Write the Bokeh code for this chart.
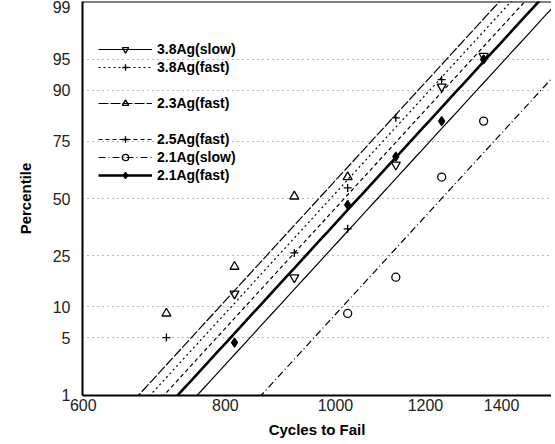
from statistics import NormalDist
import numpy as np
from bokeh.plotting import figure
from bokeh.models import Range1d, FixedTicker, Legend, LegendItem, Span, NumeralTickFormatter
from bokeh.embed import file_html
from bokeh.resources import INLINE

# ---- data ----
pct_ticks = [1, 5, 10, 25, 50, 75, 90, 95, 99]
x_ticks = [600, 800, 1000, 1200, 1400]

names = ["3.8Ag(slow)", "3.8Ag(fast)", "2.3Ag(fast)", "2.5Ag(fast)", "2.1Ag(slow)", "2.1Ag(fast)"]

ag38_slow_cycles = [815, 920, 1130, 1240, 1350]
ag38_slow_pct = [13, 17.5, 65.5, 90.7, 95.4]

ag38_fast_cycles = [920, 1025, 1240]
ag38_fast_pct = [26, 55, 92]

ag23_fast_cycles = [710, 815, 920, 1025]
ag23_fast_pct = [8.7, 21, 51, 60]

ag25_fast_cycles = [710, 1025, 1130]
ag25_fast_pct = [5, 36, 83]

ag21_slow_cycles = [1025, 1130, 1240, 1350]
ag21_slow_pct = [8.7, 17.6, 60, 82]

ag21_fast_cycles = [815, 1025, 1130, 1240, 1350]
ag21_fast_pct = [4.4, 47, 69, 82, 95]

# fitted lognormal lines: median cycles and common shape
fit_median = [1089, 990, 967, 1018, 1240, 1047]
fit_sigma = [0.157, 0.157, 0.157, 0.157, 0.157, 0.157]

# ---- styles ----
markers = ["inverted_triangle", "cross", "triangle", "cross", "circle", "diamond"]
fills = [None, None, None, None, None, "black"]
msizes = [9, 8, 9, 8, 8, 9]
dashes = ["solid", "2 3", "10 2", "4 3", "7 3 1 3", "solid"]
lwidths = [1.2, 1.2, 1.2, 1.2, 1.2, 2.6]

nd = NormalDist()
def z(p):
    return nd.inv_cdf(p / 100.0)

zt = [z(pc) for pc in pct_ticks]
zlo, zhi = zt[0] - 0.004, zt[-1] + 0.004

p = figure(width=551, height=442, x_axis_type="log",
           x_range=Range1d(599, 1549), y_range=Range1d(zlo, zhi),
           output_backend="svg", toolbar_location=None,
           min_border_left=82, min_border_right=0, min_border_top=1, min_border_bottom=47)
p.outline_line_color = None
p.background_fill_color = "white"

FONT = "Liberation Sans"
for ax in (p.xaxis[0], p.yaxis[0]):
    ax.axis_line_width = 2
    ax.axis_line_color = "black"
    ax.major_tick_line_color = None
    ax.minor_tick_line_color = None
    ax.major_tick_out = 0
    ax.major_tick_in = 0
    ax.minor_tick_out = 0
    ax.minor_tick_in = 0
    ax.major_label_text_font = FONT
    ax.major_label_text_font_size = "16px"
    ax.major_label_text_color = "#222222"
    ax.axis_label_text_font = FONT
    ax.axis_label_text_font_size = "15px"
    ax.axis_label_text_font_style = "bold"
    ax.axis_label_text_color = "black"

p.yaxis.ticker = FixedTicker(ticks=zt)
p.yaxis.major_label_overrides = {t: str(pc) for t, pc in zip(zt, pct_ticks)}
p.yaxis.major_label_standoff = 12
p.yaxis.axis_label = "Percentile"
p.yaxis.axis_label_standoff = 16

p.xaxis.ticker = FixedTicker(ticks=x_ticks)
p.xaxis.formatter = NumeralTickFormatter(format="0")
p.xaxis.major_label_standoff = 3
p.xaxis.axis_label = "Cycles to Fail"
p.xaxis.axis_label_standoff = 7

p.xgrid.visible = False
p.ygrid.ticker = FixedTicker(ticks=zt[1:-1])
p.ygrid.grid_line_color = "#777777"
p.ygrid.grid_line_dash = "1 4"
p.ygrid.grid_line_width = 1

p.add_layout(Span(location=zhi, dimension="width", line_color="black", line_width=2))

cycles = [ag38_slow_cycles, ag38_fast_cycles, ag23_fast_cycles, ag25_fast_cycles, ag21_slow_cycles, ag21_fast_cycles]
pcts = [ag38_slow_pct, ag38_fast_pct, ag23_fast_pct, ag25_fast_pct, ag21_slow_pct, ag21_fast_pct]

zline = np.linspace(-2.6, 2.6, 60)
items = {}
for i, nm in enumerate(names):
    xl = fit_median[i] * np.exp(zline * fit_sigma[i])
    lr = p.line(xl, zline, line_color="black", line_width=lwidths[i], line_dash=dashes[i])
    mr = p.scatter(cycles[i], [z(v) for v in pcts[i]], marker=markers[i], size=msizes[i],
                   line_color="black", line_width=1.3,
                   fill_color=fills[i] if fills[i] else "white",
                   fill_alpha=1.0 if fills[i] else 0.0)
    items[nm] = [lr, mr]

blank1 = p.line([], [], line_alpha=0)
blank2 = p.line([], [], line_alpha=0)

legend = Legend(items=[
    LegendItem(label="3.8Ag(slow)", renderers=items["3.8Ag(slow)"]),
    LegendItem(label="3.8Ag(fast)", renderers=items["3.8Ag(fast)"]),
    LegendItem(label=" ", renderers=[blank1]),
    LegendItem(label="2.3Ag(fast)", renderers=items["2.3Ag(fast)"]),
    LegendItem(label="  ", renderers=[blank2]),
    LegendItem(label="2.5Ag(fast)", renderers=items["2.5Ag(fast)"]),
    LegendItem(label="2.1Ag(slow)", renderers=items["2.1Ag(slow)"]),
    LegendItem(label="2.1Ag(fast)", renderers=items["2.1Ag(fast)"]),
], location=(16, 212))
legend.background_fill_alpha = 0
legend.border_line_alpha = 0
legend.padding = 0
legend.margin = 0
legend.spacing = 2
legend.glyph_width = 54
legend.glyph_height = 16
legend.label_height = 16
legend.label_standoff = 5
legend.label_text_font = FONT
legend.label_text_font_size = "14px"
legend.label_text_font_style = "bold"
legend.label_text_color = "black"
p.add_layout(legend)

open("out.html", "w").write(file_html(p, INLINE))
